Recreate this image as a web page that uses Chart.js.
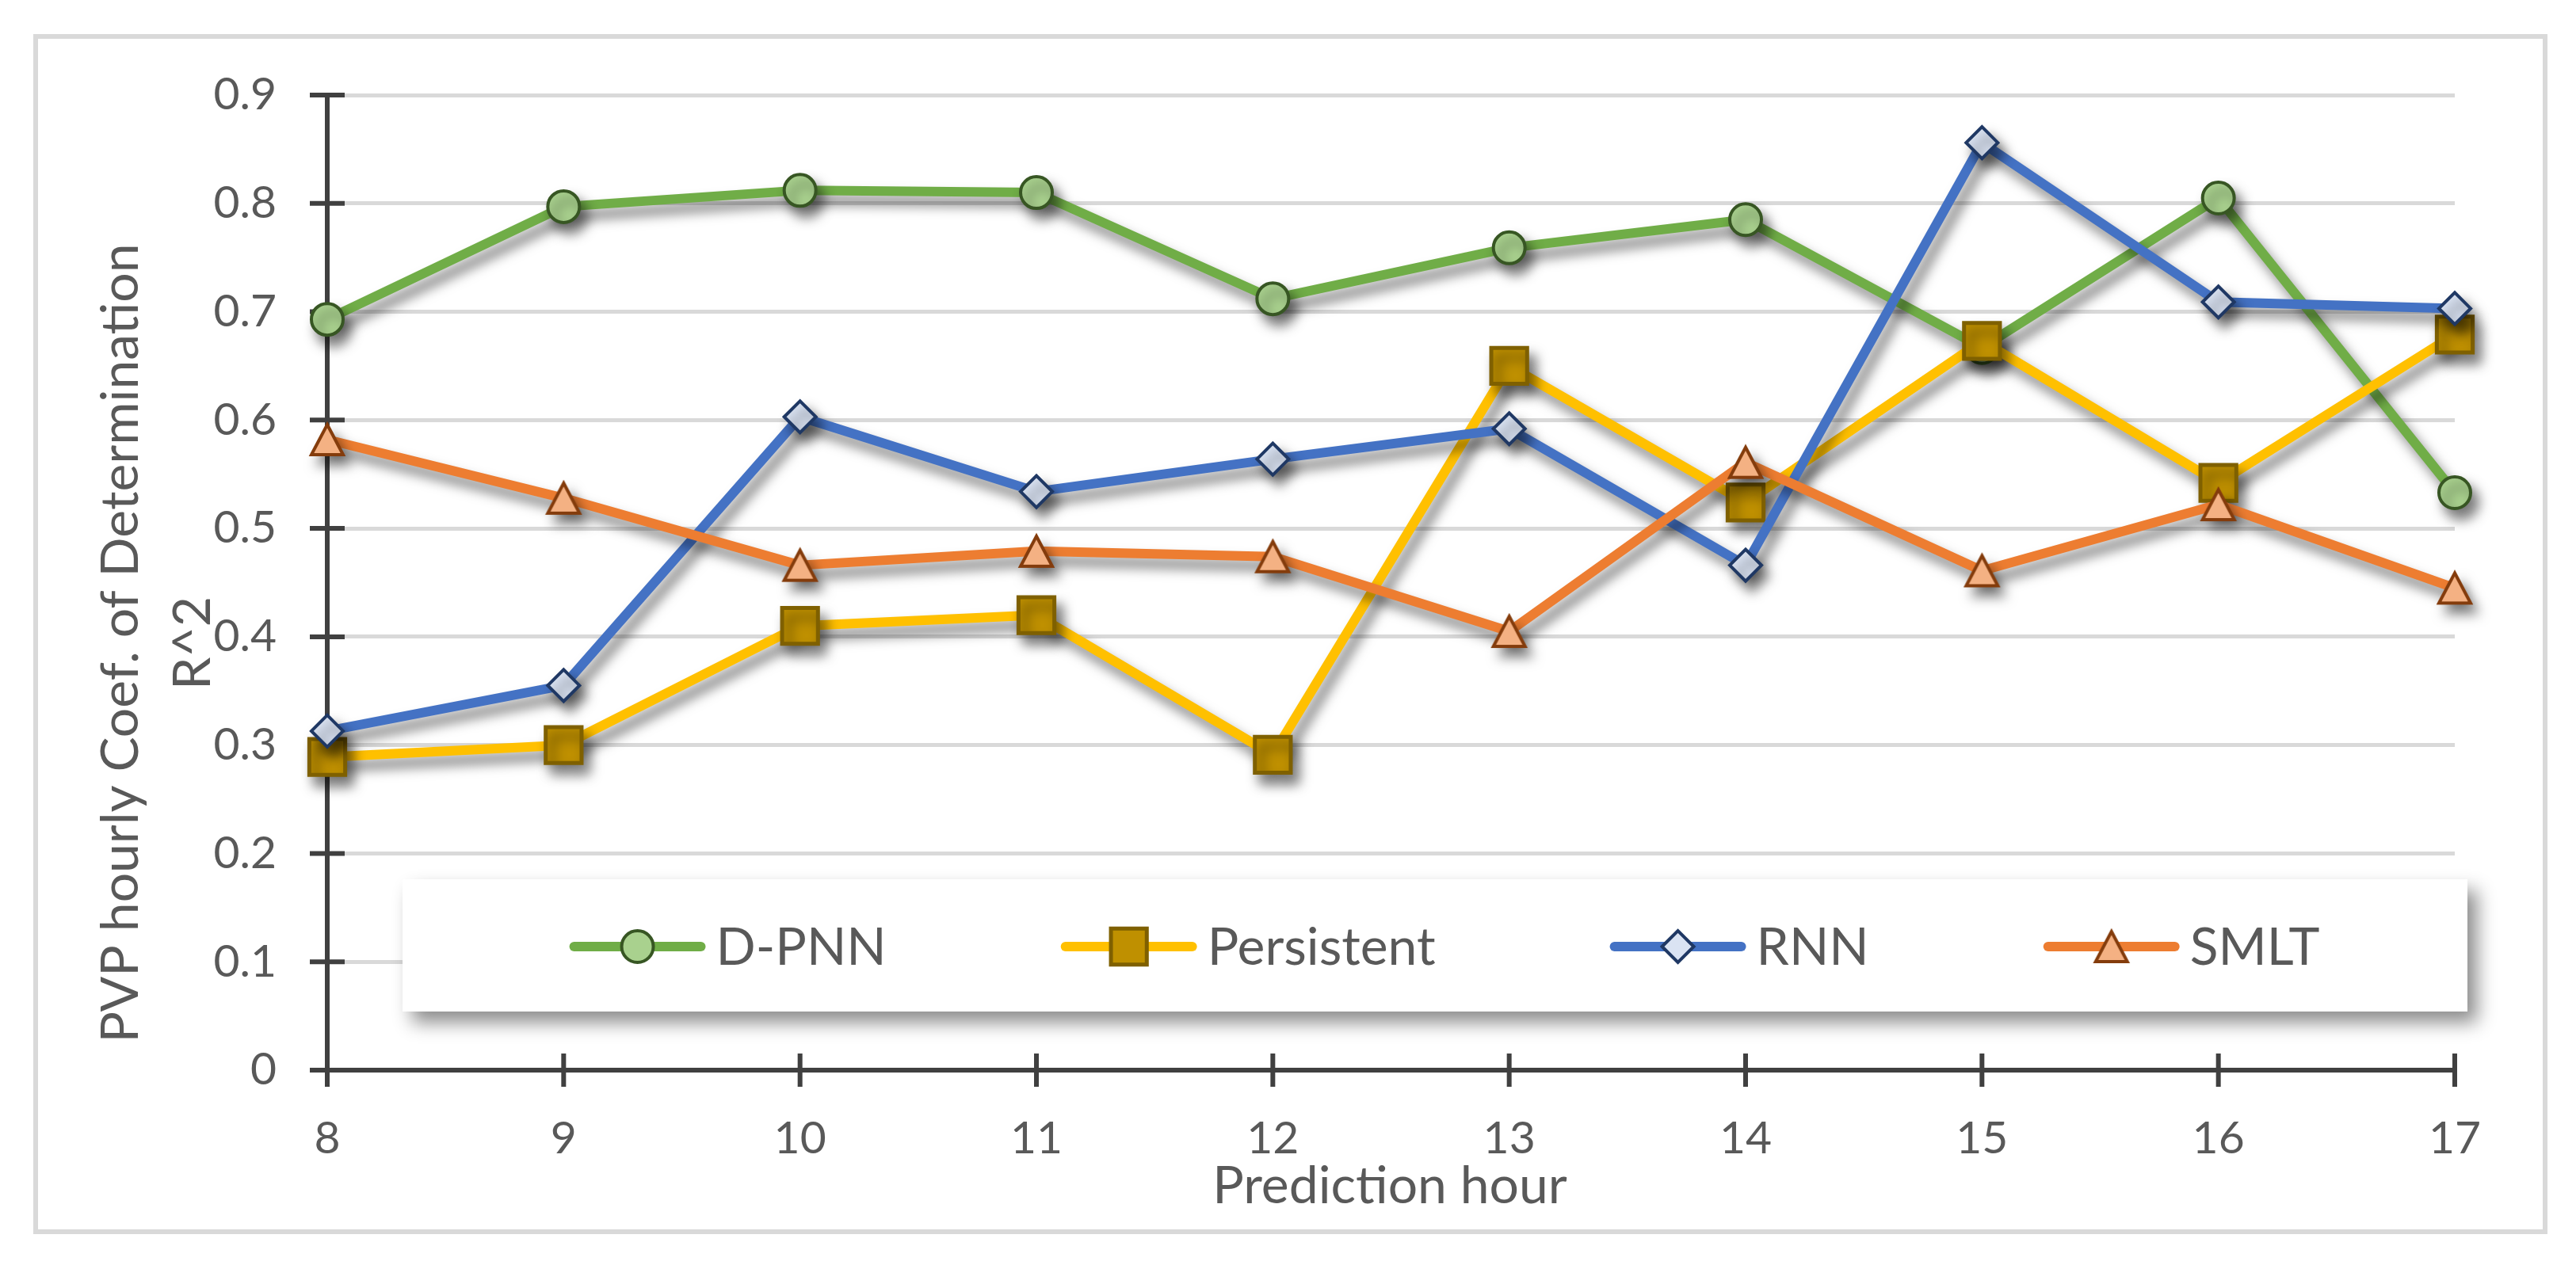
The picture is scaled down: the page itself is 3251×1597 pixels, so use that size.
<!DOCTYPE html>
<html>
<head>
<meta charset="utf-8">
<title>PVP hourly Coef. of Determination</title>
<script src="https://cdn.jsdelivr.net/npm/chart.js@4.4.1/dist/chart.umd.min.js"></script>
<style>
  html, body { margin: 0; padding: 0; background: #fff; }
  canvas { display: block; }
</style>
</head>
<body>
<canvas id="r2Chart" width="3251" height="1597"></canvas>
<script>
// ---------------------------------------------------------
//   values
// ---------------------------------------------------------
const hours      = ['8', '9', '10', '11', '12', '13', '14', '15', '16', '17'];
const seriesNames = ['D-PNN', 'Persistent', 'RNN', 'SMLT'];
const dpnn       = [0.693, 0.797, 0.812, 0.810, 0.712, 0.759, 0.785, 0.667, 0.805, 0.533];
const persistent = [0.289, 0.300, 0.410, 0.420, 0.291, 0.650, 0.524, 0.673, 0.542, 0.679];
const rnn        = [0.313, 0.355, 0.603, 0.534, 0.564, 0.592, 0.466, 0.856, 0.709, 0.703];
const smlt       = [0.582, 0.528, 0.466, 0.479, 0.474, 0.405, 0.561, 0.461, 0.522, 0.445];
const yTicks     = [0, 0.1, 0.2, 0.3, 0.4, 0.5, 0.6, 0.7, 0.8, 0.9];
const yTitle     = ['PVP hourly Coef. of Determination', 'R^2'];
const xTitle     = 'Prediction hour';

const FONT = 'Lato, "Open Sans", sans-serif';
const TEXT = '#595959';
const AXIS = '#404040';

// Excel style triangle (bounding box centred on the point)
function makeTriangle() {
    const c = document.createElement('canvas');
    c.width = 48; c.height = 48;
    const g = c.getContext('2d');
    g.beginPath();
    g.moveTo(24, 5);
    g.lineTo(44, 43);
    g.lineTo(4, 43);
    g.closePath();
    g.fillStyle = '#F4B183';
    g.fill();
    g.lineWidth = 4;
    g.lineJoin = 'miter';
    g.strokeStyle = '#843C0C';
    g.stroke();
    return c;
}
const triangle = makeTriangle();

// ---------------------------------------------------------
//   plugins: frame, crossing ticks, legend, shadows, titles
// ---------------------------------------------------------
function line(ctx, x1, y1, x2, y2) {
    ctx.beginPath();
    ctx.moveTo(x1, y1);
    ctx.lineTo(x2, y2);
    ctx.stroke();
}

function drawLegend(chart) {
    const ctx = chart.ctx;
    const box = { left: 508, top: 1110, right: 3114, bottom: 1277 };

    ctx.save();
    ctx.shadowColor = 'rgba(0,0,0,0.45)';
    ctx.shadowBlur = 22;
    ctx.shadowOffsetX = 12;
    ctx.shadowOffsetY = 14;
    ctx.fillStyle = '#fff';
    ctx.fillRect(box.left, box.top, box.right - box.left, box.bottom - box.top);
    ctx.restore();

    ctx.save();
    ctx.font = '66px ' + FONT;
    const sample = 172, gapText = 13, gapItem = 220;
    const sets = chart.data.datasets;
    const widths = sets.map(ds => sample + gapText + ctx.measureText(ds.label).width);
    const total = widths.reduce((a, b) => a + b, 0) + gapItem * (widths.length - 1);
    let x = 1823 - total / 2;
    const y = 1195;

    sets.forEach((ds, i) => {
        ctx.strokeStyle = ds.borderColor;
        ctx.lineWidth = 12;
        ctx.lineCap = 'round';
        line(ctx, x + 6, y, x + sample - 6, y);

        ctx.lineCap = 'butt';
        ctx.lineJoin = 'miter';
        ctx.fillStyle = ds.pointBackgroundColor;
        ctx.strokeStyle = ds.pointBorderColor;
        ctx.lineWidth = ds.pointBorderWidth;
        Chart.helpers.drawPoint(ctx, {
            pointStyle: ds.pointStyle,
            radius: ds.pointRadius,
            rotation: 0,
            borderWidth: ds.pointBorderWidth
        }, x + sample / 2, y);

        ctx.fillStyle = TEXT;
        ctx.textAlign = 'left';
        ctx.textBaseline = 'alphabetic';
        ctx.fillText(ds.label, x + sample + gapText, 1218);
        x += widths[i] + gapItem;
    });
    ctx.restore();
}

const excelLook = {
    id: 'excelLook',
    beforeDraw(chart) {
        const ctx = chart.ctx;
        ctx.save();
        ctx.fillStyle = '#fff';
        ctx.fillRect(0, 0, chart.width, chart.height);
        ctx.strokeStyle = '#D9D9D9';
        ctx.lineWidth = 6;
        ctx.strokeRect(45, 46, 3167, 1509);
        ctx.restore();
    },
    beforeDatasetsDraw(chart) {
        const ctx = chart.ctx;
        const area = chart.chartArea;
        const xs = chart.scales.x, ys = chart.scales.y;

        // tick marks crossing both axes
        ctx.save();
        ctx.strokeStyle = AXIS;
        ctx.lineWidth = 6;
        ys.ticks.forEach((t, i) => {
            const py = ys.getPixelForTick(i);
            line(ctx, area.left - 22, py, area.left + 22, py);
        });
        xs.ticks.forEach((t, i) => {
            const px = xs.getPixelForTick(i);
            line(ctx, px, area.bottom - 21, px, area.bottom + 21);
        });
        ctx.restore();

        drawLegend(chart);

        // soft drop shadow under the series
        ctx.save();
        ctx.shadowColor = 'rgba(0,0,0,0.5)';
        ctx.shadowBlur = 15;
        ctx.shadowOffsetX = 8;
        ctx.shadowOffsetY = 12;
    },
    afterDatasetsDraw(chart) {
        chart.ctx.restore();
    },
    afterDraw(chart) {
        const ctx = chart.ctx;
        ctx.save();
        ctx.fillStyle = TEXT;
        ctx.font = '66px ' + FONT;
        ctx.textAlign = 'center';
        ctx.textBaseline = 'alphabetic';
        ctx.fillText(xTitle, 1754, 1519);

        ctx.translate(174, 812);
        ctx.rotate(-Math.PI / 2);
        ctx.fillText(yTitle[0], 0, 0);
        ctx.fillText(yTitle[1], 0, 91);
        ctx.restore();
    }
};

// ---------------------------------------------------------
//   chart
// ---------------------------------------------------------
const common = { borderWidth: 12, borderJoinStyle: 'round', tension: 0, clip: false, fill: false };

new Chart(document.getElementById('r2Chart'), {
    type: 'line',
    data: {
        labels: hours,
        datasets: [
            Object.assign({
                label: seriesNames[0], data: dpnn, order: 4,
                borderColor: '#70AD47',
                pointStyle: 'circle', pointRadius: 20, pointBorderWidth: 4,
                pointBackgroundColor: '#A9D18E', pointBorderColor: '#375623'
            }, common),
            Object.assign({
                label: seriesNames[1], data: persistent, order: 3,
                borderColor: '#FFC000',
                pointStyle: 'rect', pointRadius: 32, pointBorderWidth: 5,
                pointBackgroundColor: '#BF9000', pointBorderColor: '#7F6000'
            }, common),
            Object.assign({
                label: seriesNames[2], data: rnn, order: 2,
                borderColor: '#4472C4',
                pointStyle: 'rectRot', pointRadius: 20, pointBorderWidth: 4,
                pointBackgroundColor: '#DAE3F3', pointBorderColor: '#1F3864'
            }, common),
            Object.assign({
                label: seriesNames[3], data: smlt, order: 1,
                borderColor: '#ED7D31',
                pointStyle: triangle, pointRadius: 22, pointBorderWidth: 4,
                pointBackgroundColor: '#F4B183', pointBorderColor: '#843C0C'
            }, common)
        ]
    },
    options: {
        responsive: false,
        devicePixelRatio: 1,
        animation: false,
        events: [],
        layout: { padding: { left: 0, top: 120, right: 153, bottom: 0 } },
        plugins: {
            legend: { display: false },
            tooltip: { enabled: false },
            title: { display: false }
        },
        scales: {
            x: {
                afterFit: s => { s.height = 246; },
                grid: { drawOnChartArea: false, drawTicks: false },
                border: { color: AXIS, width: 6 },
                ticks: {
                    padding: 52, color: TEXT, maxRotation: 0, autoSkip: false,
                    font: { family: FONT, size: 57 }
                }
            },
            y: {
                min: 0,
                max: 0.9,
                afterBuildTicks: s => { s.ticks = yTicks.map(v => ({ value: v })); },
                afterFit: s => { s.width = 413; },
                grid: { color: '#D9D9D9', lineWidth: 5, drawTicks: false },
                border: { color: AXIS, width: 6 },
                ticks: {
                    padding: 64, color: TEXT,
                    font: { family: FONT, size: 57 },
                    callback: v => v === 0 ? '0' : v.toFixed(1)
                }
            }
        }
    },
    plugins: [excelLook]
});
</script>
</body>
</html>
